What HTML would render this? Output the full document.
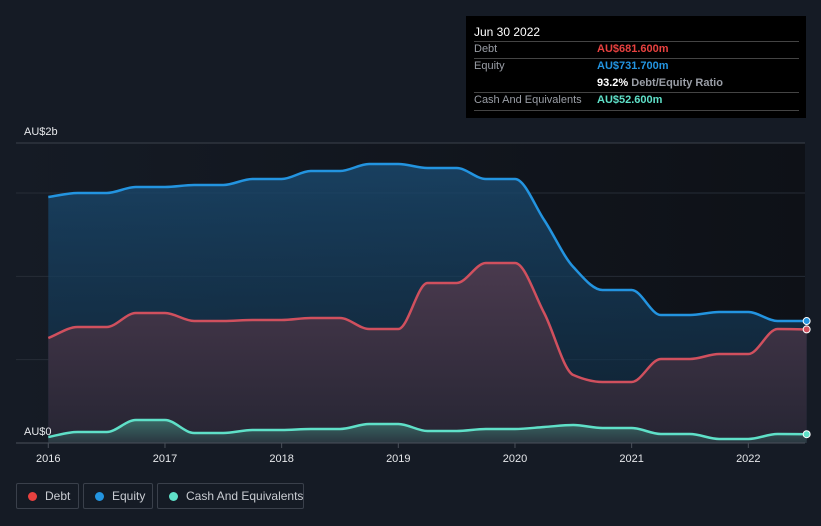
<!DOCTYPE html>
<html><head><meta charset="utf-8"><style>
body{margin:0;width:821px;height:526px;background:#151b25;overflow:hidden;font-family:"Liberation Sans",sans-serif;position:relative}
#tip{position:absolute;left:466px;top:16px;width:340px;height:102px;background:#000;color:#fff;font-size:11px}
.row{position:absolute;left:8px;width:325px;border-top:1px solid #444}
.lab{position:absolute;left:8px;color:#9a9ea6}
.val{position:absolute;left:131px;font-weight:bold}
.leg{position:absolute;top:483px;height:26px;border:1px solid #3a404b;border-radius:2px;color:#c9ccd2;font-size:12px;box-sizing:border-box;line-height:24px;white-space:nowrap}
.dot{position:absolute;left:11px;top:8px;width:9px;height:9px;border-radius:50%}
</style></head><body>
<svg id="chart" width="821" height="526" style="position:absolute;left:0;top:0">
<defs>
<linearGradient id="bg" x1="0" x2="1"><stop offset="0" stop-color="#151b25"/><stop offset="1" stop-color="#0e1117"/></linearGradient>
<linearGradient id="eqg" x1="0" y1="0" x2="0" y2="1"><stop offset="0" stop-color="#1a4a70" stop-opacity="0.8"/><stop offset="1" stop-color="#0f2a40" stop-opacity="0.6"/></linearGradient>
<linearGradient id="dg" x1="0" y1="0" x2="0" y2="1"><stop offset="0" stop-color="#4a3a4e"/><stop offset="1" stop-color="#262533"/></linearGradient>
<linearGradient id="cg" x1="0" y1="0" x2="0" y2="1"><stop offset="0" stop-color="#3a6a66"/><stop offset="1" stop-color="#2a3640"/></linearGradient>
</defs>
<rect x="16" y="143" width="789" height="300" fill="url(#bg)"/>
<g id="grid"></g><g id="areas"></g><g id="lines"></g><g id="axis"></g>
<text x="24" y="135" fill="#e6e8eb" font-size="11">AU$2b</text>
<text x="24" y="435" fill="#e6e8eb" font-size="11">AU$0</text>
</svg>
<div id="tip">
<div style="position:absolute;left:8px;top:9px;font-size:12px">Jun 30 2022</div>
<div class="row" style="top:25px"></div>
<div class="lab" style="top:27px">Debt</div>
<div class="val" style="top:27px;color:#e8413f">AU$681.600m</div>
<div class="row" style="top:42px"></div>
<div class="lab" style="top:44px">Equity</div>
<div class="val" style="top:44px;color:#2394e0">AU$731.700m</div>
<div class="val" style="top:61px;color:#fff">93.2% <span style="color:#9a9ea6">Debt/Equity Ratio</span></div>
<div class="row" style="top:76px"></div>
<div class="lab" style="top:78px">Cash And Equivalents</div>
<div class="val" style="top:78px;color:#5fe0c8">AU$52.600m</div>
<div class="row" style="top:94px"></div>
</div>
<div class="leg" style="left:16px;width:63px"><span class="dot" style="background:#e8413f"></span><span style="position:absolute;left:28px">Debt</span></div>
<div class="leg" style="left:83px;width:70px"><span class="dot" style="background:#2394e0"></span><span style="position:absolute;left:28px">Equity</span></div>
<div class="leg" style="left:157px;width:147px"><span class="dot" style="background:#5fe0c8"></span><span style="position:absolute;left:28px">Cash And Equivalents</span></div>
<script>
const dates=[2016,2016.25,2016.5,2016.75,2017,2017.25,2017.5,2017.75,2018,2018.25,2018.5,2018.75,2019,2019.25,2019.5,2019.75,2020,2020.25,2020.5,2020.75,2021,2021.25,2021.5,2021.75,2022,2022.25,2022.5];
const equity=[1476,1500,1500,1536,1536,1548,1548,1584,1584,1632,1632,1674,1674,1650,1650,1584,1584,1338,1056,918,918,768,768,786,786,732,731.7];
const debt=[630,696,696,780,780,732,732,738,738,750,750,684,684,960,960,1080,1080,780,408,366,366,504,504,534,534,684,681.6];
const cash=[36,66,66,138,138,60,60,78,78,84,84,114,114,72,72,84,84,96,108,90,90,54,54,24,24,54,52.6];
const yearTicks=[2016,2017,2018,2019,2020,2021,2022];
const gridVals=[500,1000,1500,1800];
const X=d=>48.3+(d-2016)*116.67, Y=v=>443-v*0.16667;
const NS='http://www.w3.org/2000/svg';
function mk(t,a,p){const e=document.createElementNS(NS,t);for(const k in a)e.setAttribute(k,a[k]);p.appendChild(e);return e;}
function mono(xs,ys){const n=xs.length,d=[],m=[];for(let i=0;i<n-1;i++)d.push((ys[i+1]-ys[i])/(xs[i+1]-xs[i]));
m[0]=d[0];m[n-1]=d[n-2];for(let i=1;i<n-1;i++){const h0=xs[i]-xs[i-1],h1=xs[i+1]-xs[i];m[i]=d[i-1]*d[i]<=0?0:3*(h0+h1)/((2*h1+h0)/d[i-1]+(h1+2*h0)/d[i]);}
let s='M'+xs[0]+','+ys[0];for(let i=0;i<n-1;i++){const h=(xs[i+1]-xs[i])/3;s+=' C'+(xs[i]+h)+','+(ys[i]+m[i]*h)+' '+(xs[i+1]-h)+','+(ys[i+1]-m[i+1]*h)+' '+xs[i+1]+','+ys[i+1];}return s;}
const grid=document.getElementById('grid'),areas=document.getElementById('areas'),lines=document.getElementById('lines'),axis=document.getElementById('axis');
gridVals.forEach(v=>{const l=mk('line',{x1:16,x2:805,y1:Y(v),y2:Y(v),stroke:v==1800?'#3c424c':'#262c36','stroke-width':1},grid);

});
const xs=dates.map(X);
[[equity,'url(#eqg)','#2394e0','equity'],[debt,'url(#dg)','#d0505e','debt'],[cash,'url(#cg)','#5fe0c8','cash']].forEach(([vals,fill,stroke,nm])=>{
const ys=vals.map(Y),p=mono(xs,ys);
const a=mk('path',{d:p+' L'+xs[xs.length-1]+',443 L'+xs[0]+',443 Z',fill:fill},areas);


const l=mk('path',{d:p,fill:'none',stroke:stroke,'stroke-width':2.5},lines);


const c=mk('circle',{cx:xs[xs.length-1],cy:ys[ys.length-1],r:3.5,fill:stroke,stroke:'#fff','stroke-width':1},lines);

});
mk('line',{x1:16,x2:805,y1:443,y2:443,stroke:'#4a505a'},axis);
yearTicks.forEach(y=>{mk('line',{x1:X(y),x2:X(y),y1:443,y2:448,stroke:'#4a505a'},axis);
const t=mk('text',{x:X(y),y:462,fill:'#e6e8eb','font-size':11,'text-anchor':'middle'},axis);t.textContent=y;

});
</script>
</body></html>
